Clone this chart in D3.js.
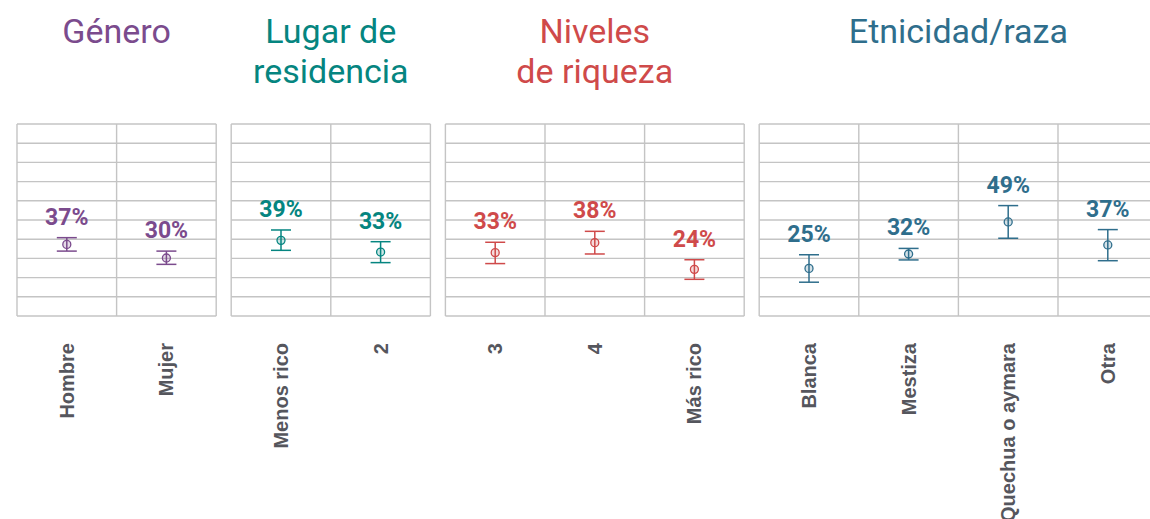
<!DOCTYPE html>
<html>
<head>
<meta charset="utf-8">
<script src="https://cdn.jsdelivr.net/npm/d3@7"></script>
<style>
  body { margin: 0; background: #fff; }
  svg { display: block; }
</style>
</head>
<body>
<main></main>
<script>
// データ
const groups = ["Género", "Lugar de residencia", "Niveles de riqueza", "Etnicidad/raza"];
const groupTitles = [["Género"], ["Lugar de", "residencia"], ["Niveles", "de riqueza"], ["Etnicidad/raza"]];
const groupColors = ["#7b4b8d", "#058580", "#cf4a4a", "#2f6e8c"];
const categories = ["Hombre", "Mujer", "Menos rico", "2", "3", "4", "Más rico", "Blanca", "Mestiza", "Quechua o aymara", "Otra"];
const groupOf = [0, 0, 1, 1, 2, 2, 2, 3, 3, 3, 3];
const values = [37.3, 30.2, 39.4, 33.3, 33.0, 38.2, 24.3, 24.8, 32.3, 49.0, 37.0];
const lower = [33.8, 26.9, 34.2, 27.8, 27.3, 32.3, 19.1, 17.6, 29.2, 40.5, 28.8];
const upper = [40.8, 33.8, 44.8, 38.7, 38.4, 44.1, 29.3, 31.9, 35.2, 57.5, 45.0];
const gridTicks = d3.range(0, 101, 10);

// SVG要素の設定
const width = 1150, height = 519;
const svg = d3.select("main").append("svg")
    .attr("width", width)
    .attr("height", height);

const colW = 99.6, gap = 15, left = 17;
const y = d3.scaleLinear().domain([0, 100]).range([316, 124]);

let x0 = left;
groups.forEach((g, gi) => {
    const idx = categories.map((c, i) => i).filter(i => groupOf[i] === gi);
    const w = colW * idx.length;
    const x = d3.scaleBand().domain(idx).range([x0, x0 + w]);
    const color = groupColors[gi];
    const panel = svg.append("g");

    // タイトル
    panel.append("text")
        .attr("x", x0 + w / 2)
        .attr("y", 43)
        .attr("text-anchor", "middle")
        .style("font-family", "Roboto, sans-serif")
        .style("font-size", "34px")
        .style("fill", color)
        .selectAll("tspan")
        .data(groupTitles[gi])
        .enter().append("tspan")
        .attr("x", x0 + w / 2)
        .attr("dy", (d, i) => i === 0 ? 0 : 40)
        .text(d => d);

    // グリッド
    panel.append("g")
        .selectAll("line")
        .data(gridTicks)
        .enter().append("line")
        .attr("x1", x0).attr("x2", x0 + w)
        .attr("y1", d => y(d)).attr("y2", d => y(d))
        .style("stroke", "#c4c4c4")
        .style("stroke-width", 1.4);

    panel.append("g")
        .selectAll("line")
        .data(idx.concat(["end"]))
        .enter().append("line")
        .attr("x1", d => d === "end" ? x0 + w : x(d))
        .attr("x2", d => d === "end" ? x0 + w : x(d))
        .attr("y1", y(0)).attr("y2", y(100))
        .style("stroke", "#c4c4c4")
        .style("stroke-width", 1.4);

    // エラーバー
    const marks = panel.append("g")
        .selectAll("g")
        .data(idx)
        .enter().append("g")
        .attr("transform", d => `translate(${x(d) + x.bandwidth() / 2},0)`);

    marks.append("line")
        .attr("y1", d => y(lower[d])).attr("y2", d => y(upper[d]))
        .style("stroke", color).style("stroke-width", 1.5);
    marks.selectAll("line.cap")
        .data(d => [lower[d], upper[d]])
        .enter().append("line")
        .attr("class", "cap")
        .attr("x1", -10).attr("x2", 10)
        .attr("y1", v => y(v)).attr("y2", v => y(v))
        .style("stroke", color).style("stroke-width", 1.5);
    marks.append("circle")
        .attr("cy", d => y(values[d]))
        .attr("r", 4)
        .style("fill", color).style("fill-opacity", 0.2)
        .style("stroke", color).style("stroke-width", 1.3);

    // 値ラベル
    marks.append("text")
        .attr("y", d => y(upper[d]) - 13)
        .attr("text-anchor", "middle")
        .style("font-family", "Roboto, sans-serif")
        .style("font-weight", "bold")
        .style("font-size", "23px")
        .style("fill", color)
        .text(d => Math.round(values[d]) + "%");

    // カテゴリラベル
    marks.append("text")
        .attr("transform", "translate(0,343) rotate(-90)")
        .attr("dy", "0.35em")
        .attr("text-anchor", "end")
        .style("font-family", "'Liberation Sans', Arial, sans-serif")
        .style("font-weight", "bold")
        .style("font-size", "20px")
        .style("fill", "#55565d")
        .text(d => categories[d]);

    x0 += w + gap;
});
</script>
</body>
</html>
